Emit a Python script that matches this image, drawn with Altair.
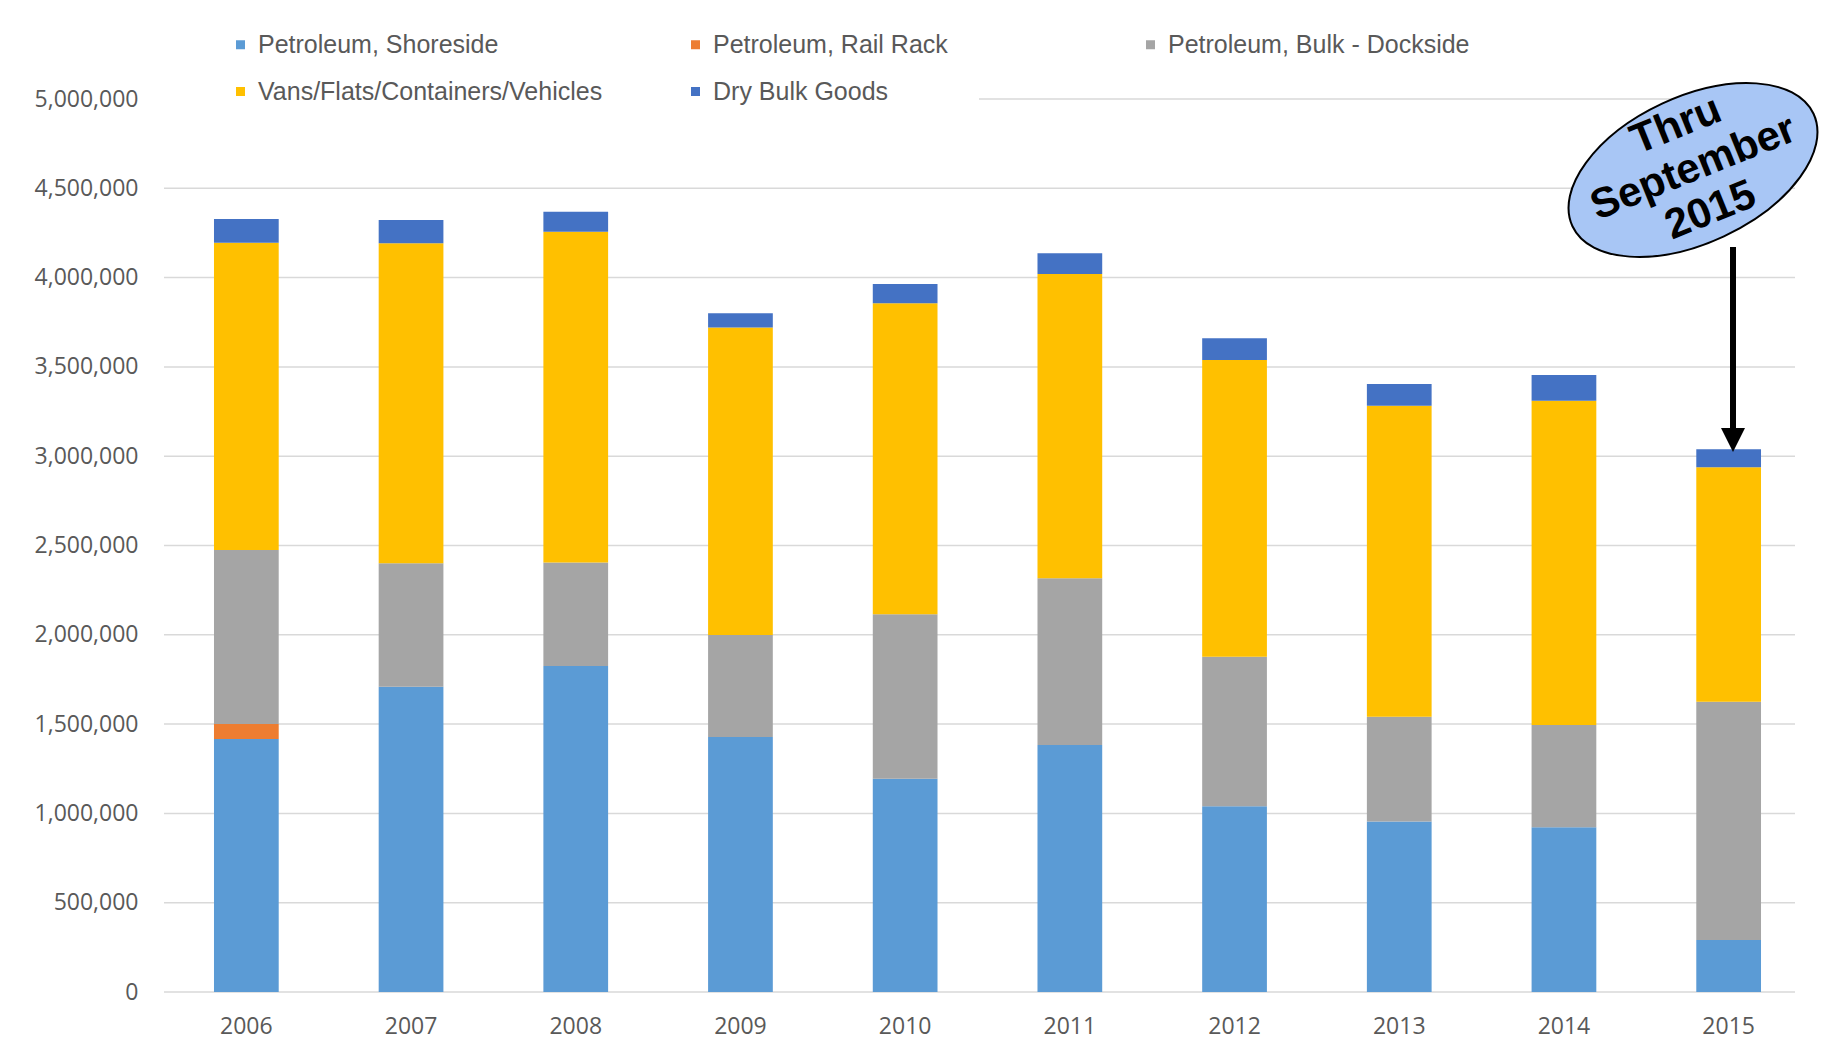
import altair as alt
import pandas as pd

years = ["2006", "2007", "2008", "2009", "2010", "2011", "2012", "2013", "2014", "2015"]
series_names = [
    "Petroleum, Shoreside",
    "Petroleum, Rail Rack",
    "Petroleum, Bulk - Dockside",
    "Vans/Flats/Containers/Vehicles",
    "Dry Bulk Goods",
]
shoreside = [1416000, 1709000, 1825000, 1428000, 1194000, 1383000, 1040000, 954000, 922000, 291000]
rail_rack = [84000, 0, 0, 0, 0, 0, 0, 0, 0, 0]
bulk_dockside = [975000, 691000, 580000, 571000, 921000, 933000, 837000, 587000, 573000, 1334000]
vans = [1720000, 1793000, 1852000, 1722000, 1741000, 1704000, 1662000, 1742000, 1816000, 1313000]
dry_bulk = [133000, 129000, 112000, 79000, 108000, 116000, 121000, 121000, 144000, 101000]
series_colors = ["#5b9bd5", "#ed7d31", "#a5a5a5", "#ffc000", "#4472c4"]
y_ticks = [0, 500000, 1000000, 1500000, 2000000, 2500000, 3000000, 3500000, 4000000, 4500000, 5000000]
note_lines = ["Thru", "September", "2015"]

rows = []
for i, (name, vals) in enumerate(zip(series_names, [shoreside, rail_rack, bulk_dockside, vans, dry_bulk])):
    for yr, v in zip(years, vals):
        rows.append({"year": yr, "series": name, "value": v, "order": i})
df = pd.DataFrame(rows)
grid_df = pd.DataFrame({"tick": y_ticks})
one = pd.DataFrame({"k": [0]})

AXIS_FONT = "Open Sans"
LABEL_COLOR = "#595959"
y_scale = alt.Scale(domain=[0, 5000000], nice=False)

gridlines = alt.Chart(grid_df).mark_rule(color="#d9d9d9", strokeWidth=1.5).encode(
    y=alt.Y("tick:Q", scale=y_scale),
    x=alt.value(0),
    x2=alt.value(1631),
)

# white box hiding the top gridline behind the second legend row
legend_bg = alt.Chart(one).mark_rect(color="white").encode(
    x=alt.value(-10), x2=alt.value(815), y=alt.value(-26), y2=alt.value(10)
)

bars = alt.Chart(df).mark_bar().encode(
    x=alt.X(
        "year:N",
        sort=years,
        scale=alt.Scale(paddingInner=0.607, paddingOuter=0.3035),
        axis=alt.Axis(
            title=None, labelAngle=0, ticks=False, domain=False, labelPadding=23,
            labelFontSize=23, labelFont=AXIS_FONT, labelColor=LABEL_COLOR, grid=False,
        ),
    ),
    y=alt.Y(
        "value:Q",
        stack="zero",
        scale=y_scale,
        axis=alt.Axis(
            title=None, values=y_ticks, format=",d", ticks=False, domain=False,
            labelPadding=26, labelFontSize=23, labelFont=AXIS_FONT, labelColor=LABEL_COLOR,
            grid=False,
        ),
    ),
    color=alt.Color(
        "series:N",
        scale=alt.Scale(domain=series_names, range=series_colors),
        legend=alt.Legend(
            title=None, orient="none", legendX=64, legendY=-67, columns=3, gridAlign="all",
            direction="horizontal",
            columnPadding=80, rowPadding=21, symbolType="square", symbolSize=81,
            symbolStrokeWidth=0, labelFontSize=25, labelFont="Liberation Sans",
            labelColor=LABEL_COLOR, labelLimit=600, labelOffset=5, padding=0,
        ),
    ),
    order=alt.Order("order:Q", sort="ascending"),
)

ellipse_path = "M -1 0 A 1 0.55 0 1 0 1 0 A 1 0.55 0 1 0 -1 0 Z"
ellipse = alt.Chart(one).mark_point(
    shape=ellipse_path, filled=True, fill="#a8c6f5", stroke="black", strokeWidth=2,
    opacity=1, fillOpacity=1, strokeOpacity=1, size=70756, angle=335,
).encode(x=alt.value(1529), y=alt.value(71))

note = alt.Chart(one).mark_text(
    text=note_lines, font="Liberation Sans", fontWeight="bold", fontSize=42, lineHeight=46,
    angle=338, align="center", baseline="middle", color="black",
).encode(x=alt.value(1512), y=alt.value(26))

arrow_line = alt.Chart(one).mark_rule(color="black", strokeWidth=6).encode(
    x=alt.value(1569), y=alt.value(148), y2=alt.value(335)
)
arrow_head = alt.Chart(one).mark_point(
    shape="M -1 -1 L 1 -1 L 0 1 Z", filled=True, color="black", opacity=1, size=576,
).encode(x=alt.value(1569), y=alt.value(341))

chart = alt.layer(gridlines, legend_bg, bars, ellipse, note, arrow_line, arrow_head).properties(
    width=1647,
    height=893,
    autosize=alt.AutoSizeParams(type="none"),
    padding={"left": 156, "top": 91, "right": 26, "bottom": 55},
    background="white",
).configure_view(stroke=None)

chart.save("out.html", embed_options={"renderer": "svg", "actions": False})
